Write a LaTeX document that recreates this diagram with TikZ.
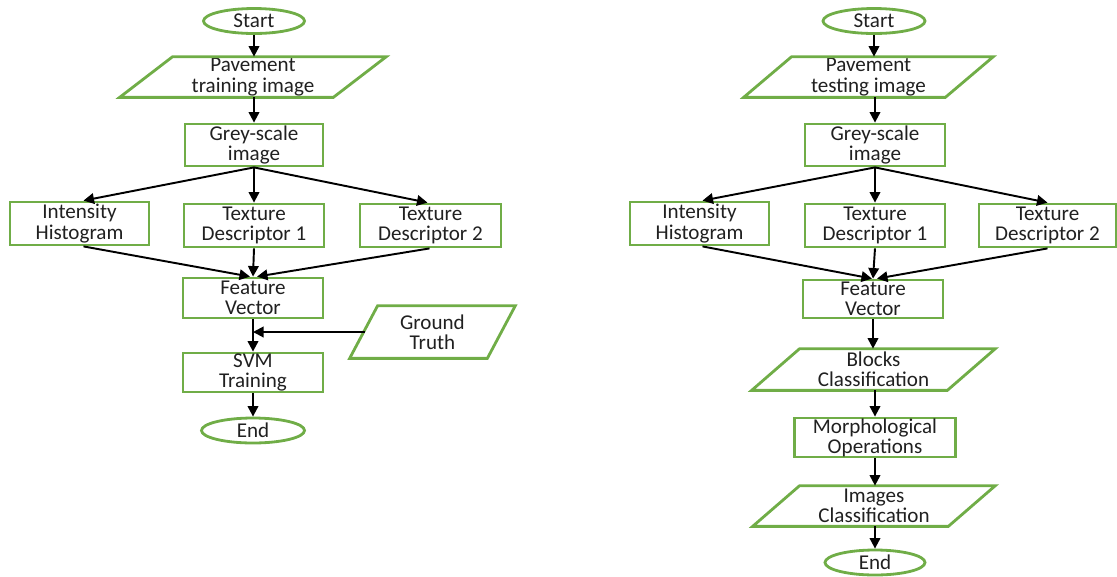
\documentclass[tikz,border=0pt]{standalone}
\usepackage{fontspec}
\setmainfont{Carlito}
\usetikzlibrary{shapes.geometric,arrows.meta,calc}
\definecolor{fgreen}{HTML}{70AD47}
\definecolor{ftext}{HTML}{202020}
\tikzset{
 sz/.style 2 args={minimum width=#1*0.02cm, minimum height=#2*0.02cm},
 base/.style={inner sep=0pt, align=center, text=ftext, font=\fontsize{12}{11.5}\selectfont},
 boxnode/.style={base, draw=fgreen, line width=1.6pt, rectangle},
 termnode/.style={base, draw=fgreen, line width=1.6pt, ellipse},
 ionode/.style={base, rectangle},
 iodraw/.style={draw=fgreen, line width=1.6pt, line join=miter},
 arr/.style={draw=black, line width=1.1pt, -{Triangle[length=6pt,width=6pt]}},
}
\newcommand{\iopath}[2]{\draw[iodraw] ($(#1.north west)+(#2,0)$) -- (#1.north east) -- ($(#1.south east)+(-#2,0)$) -- (#1.south west) -- cycle;}
\begin{document}
\begin{tikzpicture}[x=0.02cm,y=-0.02cm]
\useasboundingbox (0,0) rectangle (1117,576);
% ---------- left flowchart ----------
\node[termnode, sz={101}{25}] (start1) at (254,21) {Start};
\node[ionode, sz={266}{40}] (in1) at (253,77) {Pavement\\training image};
\iopath{in1}{53}
\node[boxnode, sz={138}{42}] (grey1) at (254,145) {Grey-scale\\image};
\node[boxnode, sz={139}{43}] (ih1) at (79.5,223.5) {Intensity\\Histogram};
\node[boxnode, sz={140}{43}] (td11) at (254,225.5) {Texture\\Descriptor 1};
\node[boxnode, sz={141}{43}] (td21) at (430.5,225.5) {Texture\\Descriptor 2};
\node[boxnode, sz={140}{40}] (fv1) at (253,298) {Feature\\Vector};
\node[ionode, sz={165}{52}] (gt) at (432.5,332) {Ground\\Truth};
\iopath{gt}{28}
\node[boxnode, sz={140}{39}] (svm) at (253,372.5) {SVM\\Training};
\node[termnode, sz={103}{25}] (end1) at (253,430.5) {End};
\coordinate (gtin) at (gt.west -| fv1.south);

\draw[arr] (start1.south) -- (start1.south |- in1.north);
\draw[arr] (in1.south -| grey1.north) -- (grey1.north);
\draw[arr] (grey1.south) -- ($(ih1.north)+(4,0)$);
\draw[arr] (grey1.south) -- (grey1.south |- td11.north);
\draw[arr] (grey1.south) -- ($(td21.north)+(-3,0)$);
\draw[arr] ($(ih1.south)+(4,0)$) -- ($(fv1.north)+(-3,0)$);
\draw[arr] (td11.south) -- (fv1.north);
\draw[arr] ($(td21.south)+(-1,0)$) -- ($(fv1.north)+(4,0)$);
\draw[arr] (fv1.south) -- (svm.north);
\draw[arr] ($(gt.west)+(15,0)$) -- (gtin);
\draw[arr] (svm.south) -- (end1.north);

% ---------- right flowchart ----------
\node[termnode, sz={102}{25}] (start2) at (874,21) {Start};
\node[ionode, sz={249}{40}] (in2) at (868.5,77) {Pavement\\testing image};
\iopath{in2}{48}
\node[boxnode, sz={140}{42}] (grey2) at (875,145) {Grey-scale\\image};
\node[boxnode, sz={139}{43}] (ih2) at (699.5,223.5) {Intensity\\Histogram};
\node[boxnode, sz={140}{43}] (td12) at (875,225.5) {Texture\\Descriptor 1};
\node[boxnode, sz={137}{43}] (td22) at (1047.5,225.5) {Texture\\Descriptor 2};
\node[boxnode, sz={140}{38}] (fv2) at (873,299) {Feature\\Vector};
\node[ionode, sz={243}{41}] (bc) at (873.5,369.5) {Blocks\\Classification};
\iopath{bc}{48}
\node[boxnode, sz={161}{39}] (mo) at (875,437.5) {Morphological\\Operations};
\node[ionode, sz={242}{40}] (ic) at (874,506) {Images\\Classification};
\iopath{ic}{47}
\node[termnode, sz={100}{25}] (end2) at (875,562.5) {End};

\draw[arr] (start2.south) -- (start2.south |- in2.north);
\draw[arr] (in2.south -| grey2.north) -- (grey2.north);
\draw[arr] (grey2.south) -- ($(ih2.north)+(3,0)$);
\draw[arr] (grey2.south) -- (grey2.south |- td12.north);
\draw[arr] (grey2.south) -- (td22.north);
\draw[arr] ($(ih2.south)+(3,0)$) -- ($(fv2.north)+(-1,0)$);
\draw[arr] (td12.south) -- (fv2.north);
\draw[arr] (td22.south) -- ($(fv2.north)+(4,0)$);
\draw[arr] (fv2.south) -- (fv2.south |- bc.north);
\draw[arr] (bc.south -| mo.north) -- (mo.north);
\draw[arr] (mo.south) -- (mo.south |- ic.north);
\draw[arr] (ic.south -| end2.north) -- (end2.north);
\end{tikzpicture}
\end{document}
